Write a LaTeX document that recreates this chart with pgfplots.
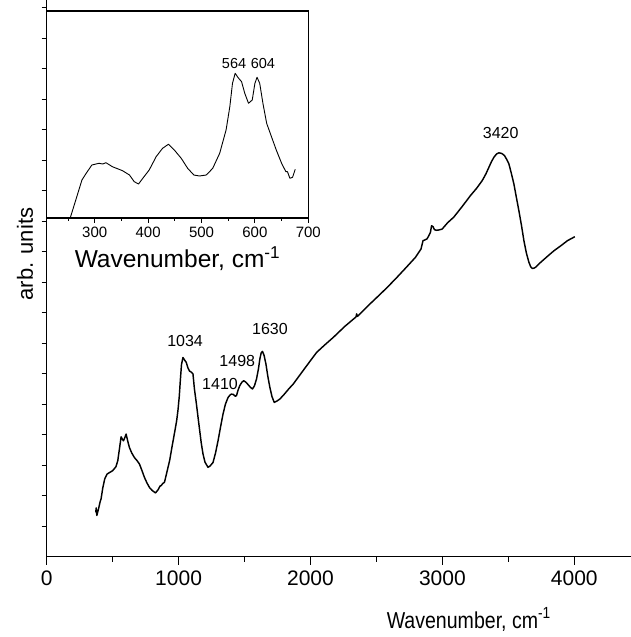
\documentclass[border=0pt]{standalone}
\usepackage{fontspec}
\setmainfont{Liberation Sans}
\newfontfamily\narrowfont[FakeStretch=0.85]{Liberation Sans}
\usepackage{pgfplots}
\pgfplotsset{compat=1.18}
\begin{document}
\begin{tikzpicture}
\useasboundingbox (-46.7pt,-80.3pt) rectangle (584.3pt,556.7pt);
\begin{axis}[
  at={(0pt,0pt)}, anchor=south west,
  scale only axis, width=584.3pt, height=556.7pt,
  xmin=0, xmax=4430, ymin=0, ymax=18.25,
  axis x line*=bottom, axis y line*=left,
  axis line style={line width=1.4pt, -},
  xtick={0,1000,2000,3000,4000},
  minor xtick={500,1500,2500,3500},
  ytick={-10}, minor ytick={1,...,18}, yticklabels={},
  tick align=outside,
  major tick length=8pt, minor tick length=5pt,
  tick style={line width=1.2pt, black},
  every tick label/.append style={font=\fontsize{21}{24}\selectfont},
  xticklabel style={yshift=-3pt},
  /pgf/number format/assume math mode=true,
  /pgf/number format/1000 sep={},
  clip=false,
]
\addplot[black, line width=1.45pt, line join=round] coordinates {
(372,1.45)(375,1.60)(380,1.35)(392,1.55)(405,1.80)(412,1.89)(425,2.25)(440,2.55)(458,2.71)(500,2.82)(525,2.95)(539,3.15)(552,3.55)(564,3.93)(574,3.85)(582,3.80)(592,3.90)(602,4.02)(615,3.78)(627,3.58)(645,3.40)(665,3.25)(685,3.15)(703,3.04)(720,2.85)(741,2.60)(760,2.42)(779,2.27)(800,2.17)(825,2.09)(845,2.20)(860,2.32)(868,2.33)(880,2.40)(893,2.44)(910,2.75)(932,3.15)(950,3.60)(970,4.08)(985,4.45)(995,4.79)(1005,5.25)(1013,5.77)(1022,6.30)(1033,6.53)(1045,6.45)(1058,6.37)(1070,6.20)(1084,6.08)(1097,6.05)(1109,5.99)(1120,5.50)(1135,5.01)(1148,4.55)(1160,4.13)(1172,3.72)(1185,3.37)(1200,3.10)(1223,2.93)(1240,2.98)(1261,3.09)(1280,3.40)(1299,3.80)(1318,4.25)(1337,4.68)(1355,5.00)(1375,5.22)(1390,5.30)(1400,5.33)(1415,5.32)(1430,5.26)(1439,5.28)(1450,5.45)(1464,5.61)(1480,5.72)(1494,5.77)(1510,5.72)(1527,5.64)(1545,5.55)(1560,5.50)(1575,5.60)(1591,5.83)(1605,6.15)(1616,6.48)(1626,6.68)(1636,6.73)(1648,6.60)(1662,6.32)(1677,5.90)(1692,5.55)(1708,5.25)(1725,5.06)(1745,5.10)(1768,5.17)(1800,5.32)(1835,5.50)(1869,5.66)(1920,5.96)(1971,6.26)(2047,6.70)(2110,6.95)(2173,7.19)(2260,7.55)(2345,7.86)(2350,7.96)(2356,7.88)(2430,8.20)(2503,8.50)(2580,8.82)(2656,9.16)(2725,9.48)(2795,9.81)(2838,10.09)(2853,10.36)(2865,10.38)(2884,10.42)(2900,10.55)(2909,10.63)(2918,10.85)(2929,10.82)(2940,10.72)(2955,10.70)(2972,10.71)(2998,10.74)(3040,10.95)(3086,11.13)(3150,11.48)(3213,11.84)(3260,12.08)(3302,12.33)(3330,12.55)(3352,12.76)(3372,12.95)(3390,13.09)(3410,13.20)(3428,13.24)(3450,13.22)(3471,13.15)(3488,13.02)(3504,12.88)(3522,12.58)(3542,12.22)(3560,11.80)(3580,11.34)(3600,10.85)(3618,10.36)(3637,9.95)(3656,9.65)(3670,9.50)(3682,9.45)(3695,9.46)(3707,9.49)(3725,9.57)(3745,9.65)(3800,9.86)(3846,10.03)(3900,10.20)(3948,10.36)(4004,10.49)
};
\node[font=\fontsize{16}{19}\selectfont] at (axis cs:1049,7.08) {1034};
\node[font=\fontsize{16}{19}\selectfont] at (axis cs:1314,5.66) {1410};
\node[font=\fontsize{16}{19}\selectfont] at (axis cs:1445,6.43) {1498};
\node[font=\fontsize{16}{19}\selectfont] at (axis cs:1693,7.45) {1630};
\node[font=\fontsize{16}{19}\selectfont] at (axis cs:3442,13.90) {3420};
\node[anchor=base, yshift=-71.3pt, font=\narrowfont\fontsize{23}{27}\selectfont] at (axis cs:3200,0) {Wavenumber, cm\textsuperscript{-1}};
\node[rotate=90, font=\fontsize{22}{26}\selectfont] at ([xshift=-21.7pt]axis cs:0,9.92) {arb. units};
\end{axis}
\begin{axis}[
  at={(0pt,338.7pt)}, anchor=south west,
  scale only axis, width=261.6pt, height=207pt,
  xmin=210, xmax=700, ymin=0, ymax=207,
  axis background/.style={fill=white},
  axis line style={line width=1.1pt},
  xtick={300,400,500,600,700},
  minor xtick={250,350,450,550,650},
  xtick pos=left,
  ytick=\empty,
  tick align=outside,
  major tick length=5pt, minor tick length=3pt,
  tick style={line width=0.9pt, black},
  every tick label/.append style={font=\fontsize{15}{18}\selectfont},
  /pgf/number format/assume math mode=true,
  clip=false,
]
\addplot[black, line width=0.9pt, line join=round] coordinates {
(254,0)(264.5,18)(276,38)(284,44.7)(294.6,53)(308,54.7)(315,54)(321,55.3)(333,51.3)(352,47.3)(365,43)(374,36.3)(382,34)(390,39.7)(402,48)(415,61.3)(427,69.7)(438,73.7)(449,68)(462,59.7)(474,49.7)(485.6,43)(496,42)(509,43)(521,49.7)(534,64.7)(546,88)(553,111.3)(558,134.7)(563,144.7)(568,140.7)(575,136.3)(581,124.7)(588,114.7)(595,118)(600,134.7)(604,140.7)(609,134.7)(615,114.7)(622,94.7)(631,81.3)(640,68)(650,54.7)(658,46.3)(661,46.3)(665.5,39.7)(670.5,40.7)(675.5,48.7)
};
\node[font=\fontsize{14.5}{17}\selectfont] at (axis cs:561,154.7) {564};
\node[font=\fontsize{14.5}{17}\selectfont] at (axis cs:615,154.7) {604};
\node[anchor=base, yshift=-50pt, font=\fontsize{24.5}{28}\selectfont] at (rel axis cs:0.5,0) {Wavenumber, cm\textsuperscript{-1}};
\end{axis}
\end{tikzpicture}
\end{document}
